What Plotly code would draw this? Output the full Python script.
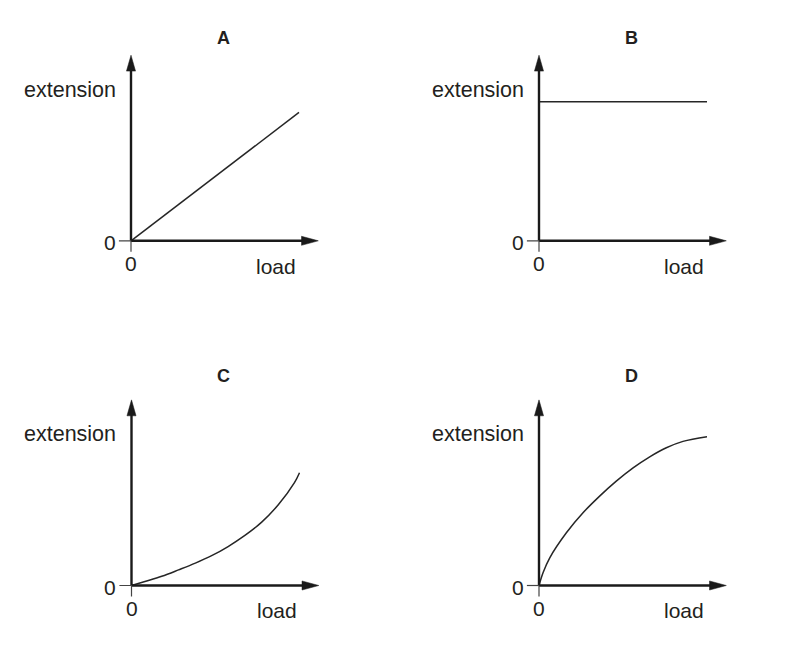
import plotly.graph_objects as go

# ---- data (arbitrary units) ----
panel_names = ["A", "B", "C", "D"]

load_A = [0, 10]
ext_A = [0, 7.64]

load_B = [0, 10]
ext_B = [8.27, 8.27]

load_C = [0, 0.8, 1.8, 2.8, 3.8, 4.8, 5.75, 6.75, 7.75, 8.75, 9.7, 10]
ext_C = [0, 0.24, 0.55, 0.93, 1.33, 1.79, 2.32, 2.98, 3.77, 4.82, 6.12, 6.71]

load_D = [0, 0.24, 0.64, 1.63, 2.62, 3.61, 4.6, 5.6, 6.59, 7.58, 8.57, 10]
ext_D = [0, 0.76, 1.65, 3.14, 4.33, 5.32, 6.21, 7.0, 7.66, 8.2, 8.58, 8.86]

x_label = "load"
y_label = "extension"
zero_label = "0"

series = [(load_A, ext_A), (load_B, ext_B), (load_C, ext_C), (load_D, ext_D)]

# ---- layout helpers ----
W, H = 800, 658
S = 16.8                 # pixels per unit
XR = (-2.0, 12.5)
YR = (-2.0, 13.0)
origins = [(131.0, 240.8), (539.0, 240.8), (131.5, 585.5), (539.0, 585.5)]
title_y = [12.05, 12.05, 12.5, 12.5]

FONT = "Liberation Sans, Arial, sans-serif"
TXT = "#231f20"
AXC = "#1a1a1a"

fig = go.Figure()
layout = dict(
    width=W, height=H,
    margin=dict(l=0, r=0, t=0, b=0),
    paper_bgcolor="white", plot_bgcolor="white",
    showlegend=False,
)
shapes = []
annotations = []

for i, (name, (xs, ys), (ox, oy)) in enumerate(zip(panel_names, series, origins)):
    n = i + 1
    sfx = "" if n == 1 else str(n)
    xa, ya = "x" + sfx, "y" + sfx
    x0 = (ox + XR[0] * S) / W
    x1 = (ox + XR[1] * S) / W
    yb = 1 - (oy - YR[0] * S) / H
    yt = 1 - (oy - YR[1] * S) / H
    layout["xaxis" + sfx] = dict(domain=[x0, x1], range=list(XR), visible=False,
                                 fixedrange=True, anchor=ya)
    layout["yaxis" + sfx] = dict(domain=[yb, yt], range=list(YR), visible=False,
                                 fixedrange=True, anchor=xa)

    fig.add_trace(go.Scatter(
        x=xs, y=ys, mode="lines", xaxis=xa, yaxis=ya,
        line=dict(color="#262626", width=1.5, shape="spline", smoothing=1.0),
        hoverinfo="skip",
    ))

    ref = dict(xref=xa, yref=ya)
    # axes
    shapes.append(dict(type="line", x0=0, y0=0, x1=0, y1=10.3,
                       line=dict(color=AXC, width=2.4), **ref))
    shapes.append(dict(type="line", x0=0, y0=0, x1=10.4, y1=0,
                       line=dict(color=AXC, width=2.4), **ref))
    # arrowheads
    shapes.append(dict(type="path", path="M -0.27,10.1 L 0,11.05 L 0.27,10.1 Z",
                       fillcolor=AXC, line=dict(color=AXC, width=0.5), **ref))
    shapes.append(dict(type="path", path="M 10.15,-0.27 L 11.15,0 L 10.15,0.27 Z",
                       fillcolor=AXC, line=dict(color=AXC, width=0.5), **ref))
    # small ticks at origin
    shapes.append(dict(type="line", x0=-0.72, y0=0, x1=0, y1=0,
                       line=dict(color="#444", width=1.2), **ref))
    shapes.append(dict(type="line", x0=0, y0=0, x1=0, y1=-0.65,
                       line=dict(color="#444", width=1.2), **ref))

    annotations += [
        dict(x=5.5, y=title_y[i], text="<b>%s</b>" % name, showarrow=False,
             font=dict(family=FONT, size=18, color=TXT),
             xanchor="center", yanchor="middle", **ref),
        dict(x=-0.78, y=9.0, text=y_label, showarrow=False,
             font=dict(family=FONT, size=21.5, color=TXT),
             xanchor="right", yanchor="middle", **ref),
        dict(x=-0.78, y=-0.12, text=zero_label, showarrow=False,
             font=dict(family=FONT, size=21, color=TXT),
             xanchor="right", yanchor="middle", **ref),
        dict(x=0.0, y=-1.35, text=zero_label, showarrow=False,
             font=dict(family=FONT, size=21, color=TXT),
             xanchor="center", yanchor="middle", **ref),
        dict(x=9.95, y=-1.5, text=x_label, showarrow=False,
             font=dict(family=FONT, size=21, color=TXT),
             xanchor="right", yanchor="middle", **ref),
    ]

layout["shapes"] = shapes
layout["annotations"] = annotations
fig.update_layout(**layout)
fig.write_html(
    "out.html",
    config={"displayModeBar": False},
    post_script="document.body.style.margin='0';document.body.style.padding='0';",
)
